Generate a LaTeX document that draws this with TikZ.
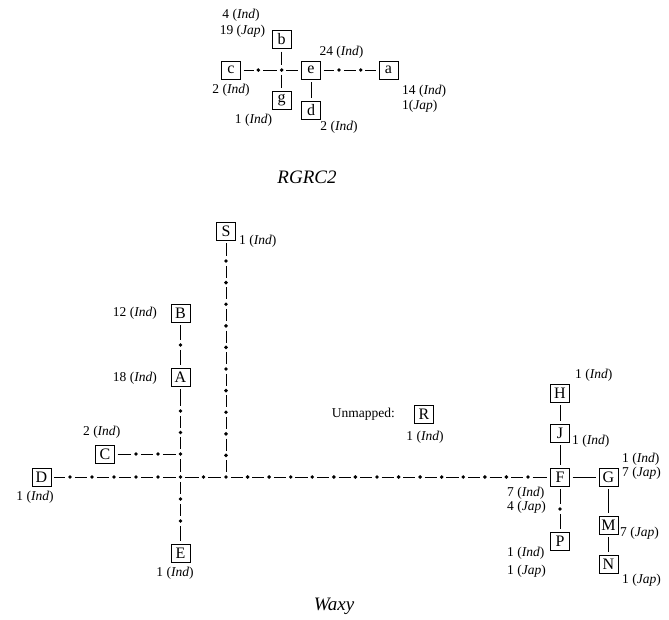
\documentclass[tikz,border=0pt]{standalone}
\usepackage{fontspec}
\setmainfont{Liberation Serif}
\begin{document}
\begin{tikzpicture}[x=1pt,y=-1pt,
  box/.style={draw,line width=0.9pt,minimum width=19pt,minimum height=18pt,inner sep=0pt,font=\fontsize{16}{16}\selectfont},
  dot/.style={circle,fill,inner sep=0pt,minimum size=3.9pt},
  lbl/.style={inner sep=0pt,font=\fontsize{13.5}{14}\selectfont},
  title/.style={inner sep=0pt,anchor=base,font=\fontsize{19}{20}\selectfont\itshape},
  link/.style={line width=0.95pt,shorten >=2.6pt,shorten <=2.6pt}]
\useasboundingbox (0,0) rectangle (669,619);

% ---------- RGRC2 ----------
\node[box] (c) at (231,70) {c};
\node[box] (e) at (311,70) {e};
\node[box] (a) at (388.5,70) {a};
\node[box] (b) at (281.7,39.5) {b};
\node[box] (g) at (281.7,100) {g};
\node[box] (d) at (311,110) {d};
\node[dot] (t1) at (258.3,70) {};
\node[dot] (tj) at (281.7,70) {};
\node[dot] (t2) at (339,70) {};
\node[dot] (t3) at (360.7,70) {};
\foreach \p/\q in {c/t1,t1/tj,tj/e,e/t2,t2/t3,t3/a,b/tj,tj/g,e/d}
  \draw[link] (\p) -- (\q);

\node[lbl] (lb1) at (241,15) {4 (\textit{Ind})};
\node[lbl] (lb2) at (242.5,31.5) {19 (\textit{Jap})};
\node[lbl] (le) at (341.5,52.5) {24 (\textit{Ind})};
\node[lbl] (lc) at (231,90.5) {2 (\textit{Ind})};
\node[lbl] (lg) at (253.5,120.5) {1 (\textit{Ind})};
\node[lbl] (ld) at (339,127) {2 (\textit{Ind})};
\node[lbl,anchor=west] (la1) at (402,91) {14 (\textit{Ind})};
\node[lbl,anchor=west] (la2) at (402,106) {1(\textit{Jap})};
\node[title] (t-top) at (307,183) {RGRC2};

% ---------- Waxy ----------
\node[box] (S) at (226,231) {S};
\node[box] (B) at (180.5,313) {B};
\node[box] (A) at (180.5,377) {A};
\node[box] (C) at (105,454) {C};
\node[box] (D) at (41.5,477) {D};
\node[box] (E) at (180.5,553) {E};
\node[box] (F) at (560,477) {F};
\node[box] (G) at (608.5,477) {G};
\node[box] (H) at (560,393) {H};
\node[box] (J) at (560,433) {J};
\node[box] (P) at (560,541.5) {P};
\node[box] (M) at (608.5,525) {M};
\node[box] (N) at (608.5,564) {N};
\node[box] (R) at (424,414) {R};

% main horizontal chain
\foreach \k in {1,...,5} \node[dot] (hl\k) at ({48+22*\k},477) {};
\node[dot] (hj) at (180.5,477) {};
\node[dot] (hm) at (203.5,477) {};
\node[dot] (sj) at (226,477) {};
\foreach \k in {1,...,14} \node[dot] (hr\k) at ({226+21.57*\k},477) {};
\draw[link] (D) -- (hl1);
\foreach \k [evaluate=\k as \n using {int(\k+1)}] in {1,...,4} \draw[link] (hl\k) -- (hl\n);
\foreach \p/\q in {hl5/hj,hj/hm,hm/sj,sj/hr1,hr14/F} \draw[link] (\p) -- (\q);
\foreach \k [evaluate=\k as \n using {int(\k+1)}] in {1,...,13} \draw[link] (hr\k) -- (hr\n);

% S branch
\foreach \k in {1,...,10} \node[dot] (sv\k) at (226,{477-21.6*\k}) {};
\draw[link] (S) -- (sv10);
\foreach \k [evaluate=\k as \n using {int(\k+1)}] in {1,...,9} \draw[link] (sv\n) -- (sv\k);
\draw[link] (sv1) -- (sj);

% vertical chain B-A-E
\node[dot] (bv) at (180.5,345) {};
\node[dot] (va1) at (180.5,411) {};
\node[dot] (va2) at (180.5,432.5) {};
\node[dot] (va3) at (180.5,454) {};
\node[dot] (vb1) at (180.5,499) {};
\node[dot] (vb2) at (180.5,521) {};
\foreach \p/\q in {B/bv,bv/A,A/va1,va1/va2,va2/va3,va3/hj,hj/vb1,vb1/vb2,vb2/E}
  \draw[link] (\p) -- (\q);

% C branch
\node[dot] (c1) at (136,454) {};
\node[dot] (c2) at (158,454) {};
\foreach \p/\q in {C/c1,c1/c2,c2/va3} \draw[link] (\p) -- (\q);

% right group
\node[dot] (fp) at (560,509) {};
\foreach \p/\q in {H/J,J/F,F/fp,fp/P,F/G,G/M,M/N} \draw[link] (\p) -- (\q);

% labels
\node[lbl,anchor=west] (lS) at (239,241) {1 (\textit{Ind})};
\node[lbl,anchor=east] (lB) at (157,313) {12 (\textit{Ind})};
\node[lbl,anchor=east] (lA) at (157,378) {18 (\textit{Ind})};
\node[lbl] (lC) at (101.7,432) {2 (\textit{Ind})};
\node[lbl] (lD) at (35,497) {1 (\textit{Ind})};
\node[lbl] (lE) at (175,573.5) {1 (\textit{Ind})};
\node[lbl,anchor=east] (un) at (395,414) {Unmapped:};
\node[lbl] (lR) at (425,437) {1 (\textit{Ind})};
\node[lbl,anchor=west] (lH) at (575,375) {1 (\textit{Ind})};
\node[lbl,anchor=west] (lJ) at (572,441) {1 (\textit{Ind})};
\node[lbl,anchor=west] (lG1) at (622,459) {1 (\textit{Ind})};
\node[lbl,anchor=west] (lG2) at (622,473) {7 (\textit{Jap})};
\node[lbl,anchor=west] (lF1) at (507,493) {7 (\textit{Ind})};
\node[lbl,anchor=west] (lF2) at (507,507) {4 (\textit{Jap})};
\node[lbl,anchor=west] (lP1) at (507,553) {1 (\textit{Ind})};
\node[lbl,anchor=west] (lP2) at (507,571) {1 (\textit{Jap})};
\node[lbl,anchor=west] (lM) at (620,533) {7 (\textit{Jap})};
\node[lbl,anchor=west] (lN) at (622,580) {1 (\textit{Jap})};
\node[title] (t-bot) at (334,610) {Waxy};
\end{tikzpicture}
\end{document}
